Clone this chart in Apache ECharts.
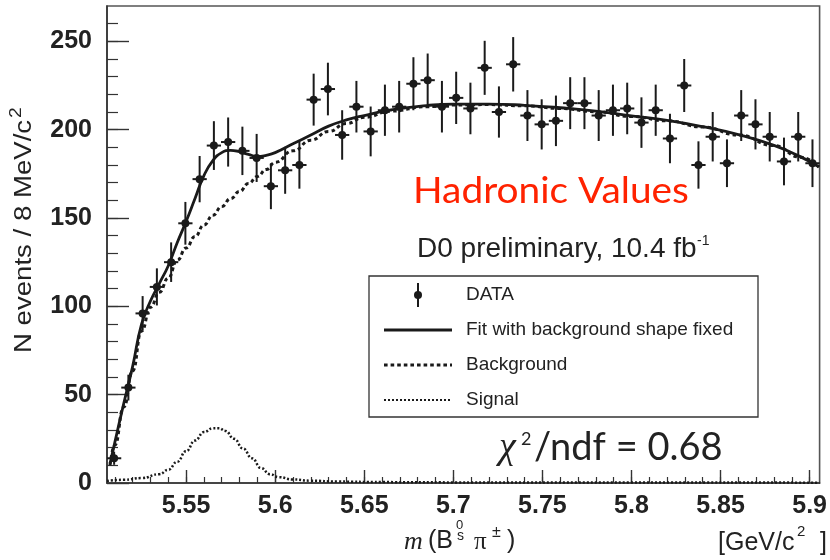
<!DOCTYPE html>
<html>
<head>
<meta charset="utf-8">
<script src="https://cdn.jsdelivr.net/npm/echarts@6/dist/echarts.min.js"></script>
<style>
  html, body { margin: 0; padding: 0; background: #fff; }
  #chart { width: 830px; height: 560px; }
</style>
</head>
<body>
<div id="chart"></div>
<script>
// Invariant-mass histogram of B_s0 pi+- candidates (8 MeV bins) with fit components.
const massMin = 5.5056;
const massMax = 5.9056;
const halfBin = 0.004;

const binCenters = [
  5.5096, 5.5176, 5.5256, 5.5336, 5.5416, 5.5496, 5.5576, 5.5656, 5.5736, 5.5816,
  5.5896, 5.5976, 5.6056, 5.6136, 5.6216, 5.6296, 5.6376, 5.6456, 5.6536, 5.6616,
  5.6696, 5.6776, 5.6856, 5.6936, 5.7016, 5.7096, 5.7176, 5.7256, 5.7336, 5.7416,
  5.7496, 5.7576, 5.7656, 5.7736, 5.7816, 5.7896, 5.7976, 5.8056, 5.8136, 5.8216,
  5.8296, 5.8376, 5.8456, 5.8536, 5.8616, 5.8696, 5.8776, 5.8856, 5.8936, 5.9016
];
const counts = [
  14, 54, 96, 111, 125, 147, 172, 191, 193, 188,
  184, 168, 177, 180, 217, 223, 197, 213, 199, 211,
  213, 226, 228, 213, 218, 212, 235, 210, 237, 208,
  203, 205, 215, 215, 208, 211, 212, 204, 211, 195,
  225, 180, 196, 181, 208, 203, 196, 182, 196, 181
];
const countErrors = [
  3.7, 7.3, 9.8, 10.5, 11.2, 12.1, 13.1, 13.8, 13.9, 13.7,
  13.6, 13.0, 13.3, 13.4, 14.7, 14.9, 14.0, 14.6, 14.1, 14.5,
  14.6, 15.0, 15.1, 14.6, 14.8, 14.6, 15.3, 14.5, 15.4, 14.4,
  14.2, 14.3, 14.7, 14.7, 14.4, 14.5, 14.6, 14.3, 14.5, 14.0,
  15.0, 13.4, 14.0, 13.5, 14.4, 14.2, 14.0, 13.5, 14.0, 13.5
];

// Total fit (signal + background)
const fitMass = [
  5.5073, 5.510, 5.515, 5.520, 5.525, 5.530, 5.535, 5.540, 5.545, 5.550,
  5.555, 5.560, 5.565, 5.570, 5.575, 5.580, 5.585, 5.590, 5.595, 5.600,
  5.610, 5.620, 5.630, 5.640, 5.650, 5.665, 5.685, 5.700, 5.720, 5.740,
  5.760, 5.780, 5.800, 5.820, 5.840, 5.860, 5.880, 5.895, 5.9052
];
const fitValues = [
  11, 23, 45, 66, 90, 103, 113, 123, 136, 148,
  161, 174, 182.5, 187, 188.3, 187.5, 186, 184.8, 185.5, 187,
  192, 197, 202, 205.5, 208, 211.2, 213.6, 214.5, 214.5, 213.8,
  212.4, 210.5, 207.8, 205.3, 201.7, 197.2, 191.1, 184.6, 179
];

// Background component
const bgMass = fitMass;
const bgValues = [
  10, 21.5, 43, 63.5, 86, 99.5, 108, 116, 126, 133,
  139.5, 146, 151.5, 156.5, 161, 165, 169.5, 173.5, 177.5, 181.5,
  188, 194, 199, 203.5, 207, 210.5, 213, 214, 214.2, 213.5,
  212, 210.2, 207.5, 205, 201.5, 197, 191, 184.4, 178.8
];

// Signal component
const sigMass = [
  5.5056, 5.515, 5.525, 5.535, 5.540, 5.545, 5.550, 5.555, 5.560, 5.565,
  5.5685, 5.572, 5.577, 5.582, 5.587, 5.592, 5.597, 5.602, 5.610, 5.620,
  5.635, 5.660, 5.700, 5.800, 5.9056
];
const sigValues = [
  1.2, 1.8, 2.8, 5.0, 7.5, 12, 18, 24, 28.8, 31,
  31, 29.5, 25, 19.5, 14, 8.5, 5, 3.3, 2.0, 1.3,
  0.8, 0.5, 0.35, 0.25, 0.2
];

const xTickValues = [5.55, 5.6, 5.65, 5.7, 5.75, 5.8, 5.85, 5.9];
const xTickLabels = ['5.55', '5.6', '5.65', '5.7', '5.75', '5.8', '5.85', '5.9'];
const yTickValues = [0, 50, 100, 150, 200, 250];
const yTickLabels = ['0', '50', '100', '150', '200', '250'];

const xMinorTicks = [];
for (let k = 551; k <= 590; k++) xMinorTicks.push(k / 100);
const yMinorTicks = [];
for (let k = 10; k <= 260; k += 10) yMinorTicks.push(k);

const pairs = (xs, ys) => xs.map((x, i) => [x, ys[i]]);

const ink = '#1a1a1a';
const axisInk = '#333';
const sans = '"Liberation Sans", Arial, sans-serif';
const serif = '"Liberation Serif", "Times New Roman", serif';
const soft = 'Lato, "Open Sans", sans-serif';

// Free-standing text element; opts may carry rotation/scale and a fill colour.
function txt(x, y, text, font, opts) {
  opts = opts || {};
  const el = {
    type: 'text', x: x, y: y, z: 100,
    style: {
      text: text, font: font, fill: opts.fill || '#222',
      textAlign: 'left', align: 'left',
      textVerticalAlign: 'middle', verticalAlign: 'middle'
    }
  };
  if (opts.rotation !== undefined) el.rotation = opts.rotation;
  if (opts.scaleX !== undefined) el.scaleX = opts.scaleX;
  return el;
}

const chart = echarts.init(document.getElementById('chart'), null, { renderer: 'canvas' });

const legendX = 369, legendY = 276, legendW = 389, legendH = 141;
const dashBg = [3.6, 3];
const dotSig = [2, 2];

chart.setOption({
  animation: false,
  backgroundColor: '#fff',
  grid: {
    left: 107, top: 6, width: 714, height: 477,
    show: true, borderColor: '#555', borderWidth: 1.6, backgroundColor: 'transparent'
  },
  xAxis: [
    {
      type: 'value', min: massMin, max: massMax,
      axisLine: { show: true, onZero: false, lineStyle: { color: axisInk, width: 1.6 } },
      axisTick: { show: true, inside: true, length: 13, customValues: xTickValues,
                  lineStyle: { color: axisInk, width: 1.4 } },
      axisLabel: {
        show: true, customValues: xTickValues, margin: 11,
        fontFamily: sans, fontSize: 25, fontWeight: 'bold', color: '#222',
        formatter: v => xTickLabels[xTickValues.findIndex(t => Math.abs(t - v) < 1e-6)]
      },
      splitLine: { show: false }
    },
    {
      type: 'value', min: massMin, max: massMax, position: 'bottom',
      axisLine: { show: false },
      axisTick: { show: true, inside: true, length: 6, customValues: xMinorTicks,
                  lineStyle: { color: axisInk, width: 1.2 } },
      axisLabel: { show: false },
      splitLine: { show: false }
    }
  ],
  yAxis: [
    {
      type: 'value', min: 0, max: 270,
      axisLine: { show: true, onZero: false, lineStyle: { color: axisInk, width: 1.6 } },
      axisTick: { show: true, inside: true, length: 22, customValues: yTickValues,
                  lineStyle: { color: axisInk, width: 1.4 } },
      axisLabel: {
        show: true, customValues: yTickValues, margin: 15,
        fontFamily: sans, fontSize: 25, fontWeight: 'bold', color: '#222',
        formatter: v => yTickLabels[yTickValues.indexOf(v)]
      },
      splitLine: { show: false }
    },
    {
      type: 'value', min: 0, max: 270, position: 'left',
      axisLine: { show: false },
      axisTick: { show: true, inside: true, length: 11, customValues: yMinorTicks,
                  lineStyle: { color: axisInk, width: 1.2 } },
      axisLabel: { show: false },
      splitLine: { show: false }
    }
  ],
  series: [
    {
      name: 'Signal', type: 'line', data: pairs(sigMass, sigValues),
      showSymbol: false, smooth: true, smoothMonotone: 'x', z: 2,
      lineStyle: { color: ink, width: 2.5, type: dotSig }
    },
    {
      name: 'Background', type: 'line', data: pairs(bgMass, bgValues),
      showSymbol: false, smooth: true, smoothMonotone: 'x', z: 3,
      lineStyle: { color: ink, width: 3, type: dashBg }
    },
    {
      name: 'Fit with background shape fixed', type: 'line', data: pairs(fitMass, fitValues),
      showSymbol: false, smooth: true, z: 4,
      lineStyle: { color: ink, width: 2.8 }
    },
    {
      name: 'DATA', type: 'custom', z: 5,
      data: binCenters.map((m, i) => [m, counts[i], countErrors[i]]),
      renderItem: function (params, api) {
        const m = api.value(0), n = api.value(1), e = api.value(2);
        const c = api.coord([m, n]);
        const hi = api.coord([m, n + e]);
        const lo = api.coord([m, Math.max(0, n - e)]);
        const l = api.coord([m - halfBin, n]);
        const r = api.coord([m + halfBin, n]);
        const st = { stroke: ink, lineWidth: 2 };
        return {
          type: 'group',
          children: [
            { type: 'line', shape: { x1: c[0], y1: hi[1], x2: c[0], y2: lo[1] }, style: st },
            { type: 'line', shape: { x1: l[0], y1: c[1], x2: r[0], y2: c[1] }, style: st },
            { type: 'circle', shape: { cx: c[0], cy: c[1], r: 4 }, style: { fill: ink } }
          ]
        };
      }
    }
  ],
  graphic: [
    // y-axis title
    txt(25, 353, 'N events / 8 MeV/c', '23px ' + sans, { rotation: Math.PI / 2, scaleX: 1.2 }),
    txt(17, 118, '2', '16px ' + sans, { rotation: Math.PI / 2, scaleX: 1.2 }),

    // x-axis title
    txt(404, 542, 'm', 'italic 26px ' + serif),
    txt(428, 541.5, '(B', '25px ' + sans),
    txt(456, 525, '0', '13px ' + sans),
    txt(457, 536, 's', '14px ' + sans),
    txt(474, 542, 'π', '25px ' + serif),
    txt(492, 533, '±', '16px ' + sans),
    txt(507, 541.5, ')', '25px ' + sans),
    txt(718, 543.5, '[GeV/c', '25px ' + sans),
    txt(797, 532, '2', '15px ' + sans),
    txt(820, 543.5, ']', '25px ' + sans),

    // annotations
    txt(413, 191, 'Hadronic Values', '37px ' + soft, { fill: '#ff2200', scaleX: 1.05 }),
    txt(417, 249, 'D0 preliminary, 10.4 fb', '28px ' + sans),
    txt(697, 241, '-1', '14px ' + sans),
    txt(499, 448, 'χ', 'italic 38px ' + serif),
    txt(521, 439, '2', '18px ' + soft),
    txt(534, 448, '/ndf = 0.68', '38px ' + soft),

    // legend
    {
      type: 'rect', z: 90,
      shape: { x: legendX, y: legendY, width: legendW, height: legendH },
      style: { fill: '#fff', stroke: '#333', lineWidth: 1.3 }
    },
    { type: 'line', z: 95, shape: { x1: 418, y1: 283, x2: 418, y2: 307 }, style: { stroke: ink, lineWidth: 2 } },
    { type: 'circle', z: 95, shape: { cx: 418, cy: 295, r: 4 }, style: { fill: ink } },
    { type: 'line', z: 95, shape: { x1: 384, y1: 330, x2: 452, y2: 330 }, style: { stroke: ink, lineWidth: 2.8 } },
    { type: 'line', z: 95, shape: { x1: 384, y1: 365, x2: 452, y2: 365 }, style: { stroke: ink, lineWidth: 3, lineDash: dashBg } },
    { type: 'line', z: 95, shape: { x1: 384, y1: 400, x2: 452, y2: 400 }, style: { stroke: ink, lineWidth: 2, lineDash: dotSig } },
    txt(466, 295, 'DATA', '19px ' + sans),
    txt(466, 330, 'Fit with background shape fixed', '19px ' + sans),
    txt(466, 365, 'Background', '19px ' + sans),
    txt(466, 400, 'Signal', '19px ' + sans)
  ]
});
</script>
</body>
</html>
